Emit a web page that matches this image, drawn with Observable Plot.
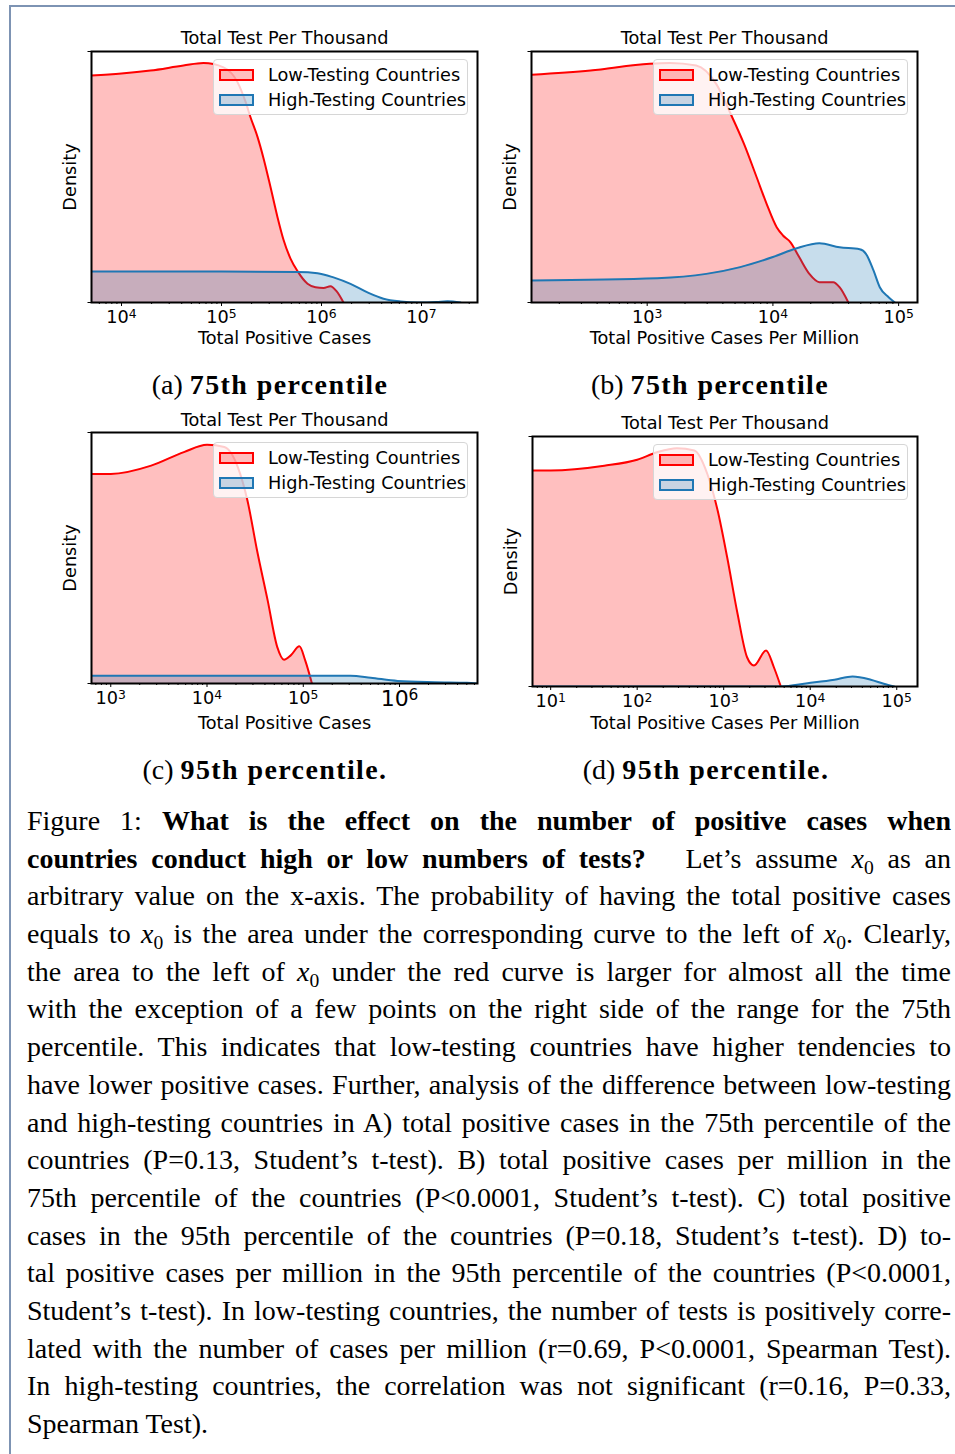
<!DOCTYPE html>
<html>
<head>
<meta charset="utf-8">
<script src="https://cdn.jsdelivr.net/npm/d3@7"></script>
<script src="https://cdn.jsdelivr.net/npm/@observablehq/plot@0.6"></script>
<style>
html,body{margin:0;padding:0;background:#fff;}
#page{position:relative;width:955px;height:1454px;overflow:hidden;background:#fff;}
#bl{position:absolute;left:9px;top:5px;width:2px;height:1449px;background:#7d93b3;}
#bt{position:absolute;left:9px;top:5px;width:946px;height:2px;background:#7d93b3;}
.panel{position:absolute;}
.panel svg{display:block;overflow:visible;}
.legend{position:absolute;width:255px;height:56px;box-sizing:border-box;border:1px solid #d6d6d6;border-radius:4px;background:rgba(255,255,255,0.8);font-family:"DejaVu Sans";font-size:17.7px;color:#000;}
.legend .row{position:absolute;left:0;width:100%;height:20px;line-height:20px;}
.legend .sw{position:absolute;left:5px;top:4px;width:35px;height:12px;box-sizing:border-box;border:2px solid;}
.legend .lb{position:absolute;left:54px;top:0;white-space:nowrap;}
.sub{position:absolute;font-family:"Liberation Serif";font-size:28px;white-space:nowrap;transform:translate(-50%,-50%);color:#000;}
.sub b{letter-spacing:1.4px;}
#cap{position:absolute;left:27px;top:802px;width:924px;font-family:"Liberation Serif";font-size:28px;line-height:37.69px;color:#000;}
.ln{height:37.69px;white-space:nowrap;}
.ln sub{font-size:0.7em;vertical-align:-0.3em;line-height:0;}
.quad{display:inline-block;width:26px;}
</style>
</head>
<body>
<div id="page">
  <div id="bl"></div><div id="bt"></div>
  <div id="pa" class="panel"></div>
  <div id="pb" class="panel"></div>
  <div id="pc" class="panel"></div>
  <div id="pd" class="panel"></div>
  <div class="sub" style="left:270px;top:385px">(a) <b>75th percentile</b></div>
  <div class="sub" style="left:710px;top:385px">(b) <b>75th percentile</b></div>
  <div class="sub" style="left:265px;top:770px">(c) <b>95th percentile.</b></div>
  <div class="sub" style="left:706px;top:770px">(d) <b>95th percentile.</b></div>
  <div id="cap">
<div class="ln"><span class="in">Figure 1: <b>What is the effect on the number of positive cases when</b></span></div>
<div class="ln"><span class="in"><b>countries conduct high or low numbers of tests?</b><span class="quad"></span> Let’s assume <i>x</i><sub>0</sub> as an</span></div>
<div class="ln"><span class="in">arbitrary value on the x-axis. The probability of having the total positive cases</span></div>
<div class="ln"><span class="in">equals to <i>x</i><sub>0</sub> is the area under the corresponding curve to the left of <i>x</i><sub>0</sub>. Clearly,</span></div>
<div class="ln"><span class="in">the area to the left of <i>x</i><sub>0</sub> under the red curve is larger for almost all the time</span></div>
<div class="ln"><span class="in">with the exception of a few points on the right side of the range for the 75th</span></div>
<div class="ln"><span class="in">percentile. This indicates that low-testing countries have higher tendencies to</span></div>
<div class="ln"><span class="in">have lower positive cases. Further, analysis of the difference between low-testing</span></div>
<div class="ln"><span class="in">and high-testing countries in A) total positive cases in the 75th percentile of the</span></div>
<div class="ln"><span class="in">countries (P=0.13, Student’s t-test). B) total positive cases per million in the</span></div>
<div class="ln"><span class="in">75th percentile of the countries (P&lt;0.0001, Student’s t-test). C) total positive</span></div>
<div class="ln"><span class="in">cases in the 95th percentile of the countries (P=0.18, Student’s t-test). D) to-</span></div>
<div class="ln"><span class="in">tal positive cases per million in the 95th percentile of the countries (P&lt;0.0001,</span></div>
<div class="ln"><span class="in">Student’s t-test). In low-testing countries, the number of tests is positively corre-</span></div>
<div class="ln"><span class="in">lated with the number of cases per million (r=0.69, P&lt;0.0001, Spearman Test).</span></div>
<div class="ln"><span class="in">In high-testing countries, the correlation was not significant (r=0.16, P=0.33,</span></div>
<div class="ln last"><span class="in">Spearman Test).</span></div>
  </div>
</div>
<script>
// ---------- data (x as log10 of the value, density as share of the axis height) ----------
const legendLabels = ["Low-Testing Countries", "High-Testing Countries"];
const panelTitle = "Total Test Per Thousand";
const yLabel = "Density";

// (a) Total Positive Cases, 75th percentile
const aLowLogX  = [3.70, 4.00, 4.29, 4.62, 4.82, 5.02, 5.16, 5.24, 5.29, 5.36, 5.42, 5.49, 5.56, 5.62, 5.69, 5.76, 5.86, 5.94, 6.02, 6.09, 6.15, 6.22];
const aLowDens  = [0.904, 0.912, 0.924, 0.944, 0.954, 0.937, 0.878, 0.800, 0.738, 0.660, 0.575, 0.460, 0.340, 0.250, 0.175, 0.125, 0.075, 0.061, 0.058, 0.065, 0.045, 0.0];
const aHighLogX = [3.70, 5.00, 5.76, 5.96, 6.12, 6.29, 6.46, 6.62, 6.79, 6.96, 7.15, 7.26, 7.39];
const aHighDens = [0.1235, 0.1235, 0.122, 0.117, 0.100, 0.074, 0.040, 0.015, 0.004, 0.0, 0.002, 0.005, 0.0];
const aTicks = [4, 5, 6, 7];

// (b) Total Positive Cases Per Million, 75th percentile
const bLowLogX  = [2.08, 2.55, 3.02, 3.18, 3.39, 3.55, 3.67, 3.77, 3.87, 3.95, 4.03, 4.08, 4.14, 4.21, 4.29, 4.37, 4.48, 4.53, 4.60];
const bLowDens  = [0.907, 0.924, 0.951, 0.954, 0.944, 0.870, 0.745, 0.632, 0.500, 0.393, 0.300, 0.267, 0.240, 0.180, 0.114, 0.081, 0.081, 0.061, 0.0];
const bHighLogX = [2.08, 3.08, 3.47, 3.74, 4.00, 4.19, 4.37, 4.53, 4.69, 4.74, 4.80, 4.85, 4.92, 4.97];
const bHighDens = [0.088, 0.097, 0.114, 0.141, 0.181, 0.216, 0.236, 0.220, 0.212, 0.194, 0.128, 0.061, 0.021, 0.0];
const bTicks = [3, 4, 5];

// (c) Total Positive Cases, 95th percentile
const cLowLogX  = [2.80, 3.00, 3.42, 3.76, 4.00, 4.18, 4.32, 4.42, 4.52, 4.63, 4.73, 4.80, 4.87, 4.96, 5.02, 5.09];
const cLowDens  = [0.835, 0.835, 0.868, 0.922, 0.951, 0.942, 0.862, 0.729, 0.530, 0.331, 0.145, 0.095, 0.112, 0.148, 0.092, 0.0];
const cHighLogX = [2.80, 5.49, 5.70, 5.98, 6.36, 6.70, 6.81];
const cHighDens = [0.031, 0.031, 0.023, 0.010, 0.005, 0.003, 0.0];
const cTicks = [3, 4, 5];
const cBigTicks = [6];

// (d) Total Positive Cases Per Million, 95th percentile
const dLowLogX  = [0.79, 1.00, 1.62, 2.00, 2.23, 2.46, 2.66, 2.81, 2.93, 3.04, 3.16, 3.27, 3.35, 3.49, 3.58, 3.66];
const dLowDens  = [0.864, 0.864, 0.883, 0.907, 0.937, 0.953, 0.944, 0.851, 0.704, 0.517, 0.291, 0.117, 0.084, 0.144, 0.077, 0.0];
const dHighLogX = [0.79, 3.66, 3.97, 4.28, 4.49, 4.70, 4.85, 4.97];
const dHighDens = [0.0, 0.0, 0.013, 0.027, 0.040, 0.027, 0.011, 0.0];
const dTicks = [1, 2, 3, 4, 5];

// ---------- drawing ----------
const FS = 17.7;
const fmtPow = v => "10^" + Math.round(Math.log10(v));
const RED = "#ff0000", BLUE = "#1f77b4";
const SVGNS = "http://www.w3.org/2000/svg";

function drawPanel(id, p) {
  const ML = 45, MR = 10, MT = 30, MB = 50;
  const [fl, fr, ft, fb] = p.frame;
  const w = ML + (fr - fl) + MR, h = MT + (fb - ft) + MB;
  const low = p.lowX.map((e, i) => ({x: Math.pow(10, e), y: p.lowY[i]}));
  const high = p.highX.map((e, i) => ({x: Math.pow(10, e), y: p.highY[i]}));
  const major = p.ticks.map(e => Math.pow(10, e));
  const big = (p.bigTicks || []).map(e => Math.pow(10, e));
  const minor = [];
  for (let e = Math.floor(p.domain[0]); e <= Math.ceil(p.domain[1]); e++) {
    for (let k = 2; k <= 9; k++) {
      const lv = e + Math.log10(k);
      if (lv >= p.domain[0] && lv <= p.domain[1]) minor.push(k * Math.pow(10, e));
    }
  }
  const chart = Plot.plot({
    width: w, height: h,
    marginLeft: ML, marginRight: MR, marginTop: MT, marginBottom: MB,
    x: {type: "log", domain: [Math.pow(10, p.domain[0]), Math.pow(10, p.domain[1])]},
    y: {domain: [0, 1]},
    style: {fontFamily: "'DejaVu Sans'", fontSize: FS + "px", color: "#000", background: "transparent", overflow: "visible"},
    marks: [
      Plot.areaY(low, {x: "x", y: "y", fill: RED, fillOpacity: 0.25, curve: "monotone-x", clip: true}),
      Plot.lineY(low, {x: "x", y: "y", stroke: RED, strokeWidth: 2, curve: "monotone-x", clip: true}),
      Plot.areaY(high, {x: "x", y: "y", fill: BLUE, fillOpacity: 0.25, curve: "monotone-x", clip: true}),
      Plot.lineY(high, {x: "x", y: "y", stroke: BLUE, strokeWidth: 2, curve: "monotone-x", clip: true}),
      Plot.axisX({ticks: minor, tickSize: 2, tickFormat: () => "", label: null}),
      Plot.axisX({ticks: major, tickSize: 4, tickPadding: 4, tickFormat: fmtPow, label: null, fontSize: FS}),
      ...(big.length ? [Plot.axisX({ticks: big, tickSize: 4, tickPadding: 3, tickFormat: fmtPow, label: null, fontSize: 22})] : []),
      Plot.axisY({ticks: [0, 1], tickSize: 3.5, tickFormat: () => "", label: null}),
      Plot.frame({stroke: "#000", strokeWidth: 2}),
      Plot.text([panelTitle], {text: d => d, frameAnchor: "top", lineAnchor: "middle", dy: p.titleDy, fontSize: FS, fill: "#000"}),
      Plot.text([p.xlabel], {text: d => d, frameAnchor: "bottom", lineAnchor: "middle", dy: p.xlabelDy, fontSize: FS, fill: "#000"}),
      Plot.text([yLabel], {text: d => d, frameAnchor: "left", textAnchor: "middle", lineAnchor: "middle", dx: -21, rotate: -90, fontSize: FS, fill: "#000"})
    ]
  });
  // power-of-ten tick labels: exponent as a raised, smaller tspan (matplotlib mathtext look)
  chart.querySelectorAll("text").forEach(t => {
    const m = /^10\^(-?\d+)$/.exec(t.textContent);
    if (!m) return;
    t.textContent = "10";
    const ts = document.createElementNS(SVGNS, "tspan");
    ts.setAttribute("dy", "-0.42em");
    ts.style.fontSize = "70%";
    ts.textContent = m[1];
    t.appendChild(ts);
  });
  const box = document.getElementById(id);
  box.style.left = (fl - ML) + "px";
  box.style.top = (ft - MT) + "px";
  box.appendChild(chart);

  // legend (matplotlib-style box in the upper right)
  const lg = document.createElement("div");
  lg.className = "legend";
  lg.style.left = p.legend[0] + "px";
  lg.style.top = p.legend[1] + "px";
  const cols = [[RED, "rgba(255,0,0,0.25)"], [BLUE, "rgba(31,119,180,0.25)"]];
  legendLabels.forEach((lab, i) => {
    const row = document.createElement("div");
    row.className = "row";
    row.style.top = (5 + i * 25) + "px";
    row.innerHTML = `<div class="sw" style="border-color:${cols[i][0]};background:${cols[i][1]}"></div><div class="lb">${lab}</div>`;
    lg.appendChild(row);
  });
  document.getElementById("page").appendChild(lg);
}

drawPanel("pa", {frame: [91, 477, 51, 302], domain: [3.70, 7.56], lowX: aLowLogX, lowY: aLowDens, highX: aHighLogX, highY: aHighDens,
  ticks: aTicks, xlabel: "Total Positive Cases", titleDy: -13, xlabelDy: 36, legend: [213, 59]});
drawPanel("pb", {frame: [531, 917, 51, 302], domain: [2.08, 5.15], lowX: bLowLogX, lowY: bLowDens, highX: bHighLogX, highY: bHighDens,
  ticks: bTicks, xlabel: "Total Positive Cases Per Million", titleDy: -13, xlabelDy: 36, legend: [653, 59]});
drawPanel("pc", {frame: [91, 477, 432, 683], domain: [2.80, 6.81], lowX: cLowLogX, lowY: cLowDens, highX: cHighLogX, highY: cHighDens,
  ticks: cTicks, bigTicks: cBigTicks, xlabel: "Total Positive Cases", titleDy: -12, xlabelDy: 40, legend: [213, 442]});
drawPanel("pd", {frame: [532, 917, 436, 686], domain: [0.79, 5.24], lowX: dLowLogX, lowY: dLowDens, highX: dHighLogX, highY: dHighDens,
  ticks: dTicks, xlabel: "Total Positive Cases Per Million", titleDy: -13, xlabelDy: 37, legend: [653, 444]});

// justify each caption line to the full text width, keeping the original line breaks
const TARGET = 924;
document.querySelectorAll("#cap .ln").forEach(ln => {
  if (ln.classList.contains("last")) return;
  const sp = ln.querySelector(".in");
  const wNat = sp.getBoundingClientRect().width;
  const n = (sp.textContent.match(/ /g) || []).length;
  if (n > 0) sp.style.wordSpacing = ((TARGET - wNat) / n) + "px";
});
</script>
</body>
</html>
